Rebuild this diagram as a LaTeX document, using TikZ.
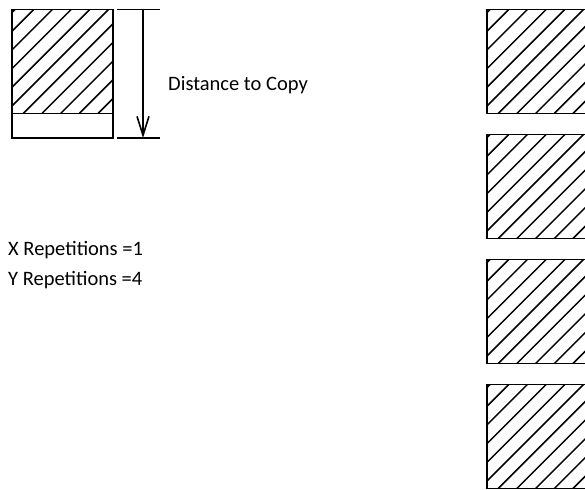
\documentclass[tikz,border=0pt]{standalone}
\usepackage{fontspec}
\setmainfont{Carlito}
\usetikzlibrary{arrows.meta}
\newcommand\myhatch[4]{%
  \begin{scope}
    \clip (#1,#2) rectangle (#3,#4);
    \foreach \k in {0,...,12}{%
      \pgfmathsetmacro\cc{#1+#2+3+18.7*\k}%
      \draw[hatchline] ({\cc-#4},#4) -- ({\cc-#2},#2);
    }
  \end{scope}}
\begin{document}
\begin{tikzpicture}[x=1pt,y=-1pt,
  outline/.style={line width=1.7pt,line join=miter},
  hatchline/.style={line width=1.5pt},
  dimline/.style={line width=1.6pt},
  lbl/.style={anchor=base west,inner sep=0pt,font=\fontsize{20.5}{24}\selectfont}]
\useasboundingbox (0,0) rectangle (585,489);
\begin{scope}
\clip (0,0) rectangle (585,489);
% left original
\myhatch{12}{9.5}{113}{113.5}
\draw[outline] (12,9.5) rectangle (113,138);
\draw[outline] (12,113.5) -- (113,113.5);
% dimension
\coordinate (t1) at (117,9.5);
\coordinate (t2) at (160,9.5);
\coordinate (b1) at (117,138);
\coordinate (b2) at (160,138);
\coordinate (atop) at (143,9.5);
\coordinate (abot) at (143,138);
\draw[dimline] (t1) -- (t2);
\draw[dimline] (b1) -- (b2);
\draw[dimline,-{Straight Barb[length=19pt,width=12pt,line width=1.6pt]}] (atop) -- (abot);
\node[lbl] (dist) at (168,91) {Distance to Copy};
\node[lbl] (xrep) at (8,255) {X Repetitions =1};
\node[lbl] (yrep) at (8,285) {Y Repetitions =4};
% copies
\foreach \t in {9.5,134.5,259.5,384.5}{%
  \pgfmathsetmacro\bb{\t+104}%
  \myhatch{487}{\t}{588}{\bb}
  \draw[outline] (487,\t) rectangle (588,\bb);
}
\end{scope}
\end{tikzpicture}
\end{document}
